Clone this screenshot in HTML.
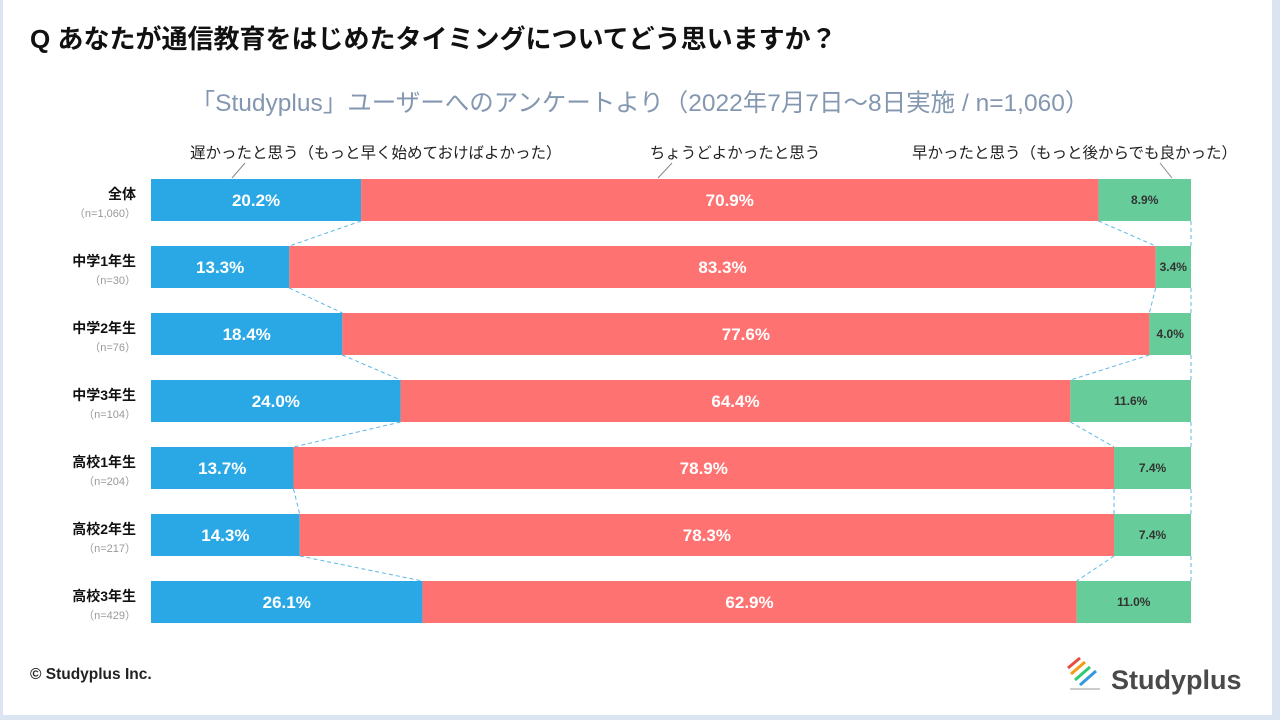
<!DOCTYPE html>
<html><head><meta charset="utf-8">
<style>
body{margin:0;width:1280px;height:720px;background:#dbe5f1;overflow:hidden;font-family:"Liberation Sans","Noto Sans CJK JP",sans-serif;}
#card{position:absolute;left:3px;top:0;width:1269px;height:715px;background:#fff;}
</style></head><body>
<div id="card"></div>
<svg id="chart" width="1280" height="720" style="position:absolute;left:0;top:0">
<text x="30" y="48" font-size="26" font-weight="bold" fill="#111">Q あなたが通信教育をはじめたタイミングについてどう思いますか？</text>
<text x="640" y="111" text-anchor="middle" font-size="24.5" fill="#8497b0">「Studyplus」ユーザーへのアンケートより（2022年7月7日〜8日実施 / n=1,060）</text>
<text x="190" y="158" font-size="15.5" fill="#222">遅かったと思う（もっと早く始めておけばよかった）</text>
<text x="735" y="158" text-anchor="middle" font-size="15.5" fill="#222">ちょうどよかったと思う</text>
<text x="1237" y="158" text-anchor="end" font-size="15.5" fill="#222">早かったと思う（もっと後からでも良かった）</text>
<line x1="245" y1="163" x2="232" y2="178" stroke="#888"/>
<line x1="672" y1="163" x2="658" y2="178" stroke="#888"/>
<line x1="1160" y1="163" x2="1172" y2="178" stroke="#888"/>
<g id="bars"></g>
<text x="30" y="679" font-size="15.5" font-weight="bold" fill="#222">© Studyplus Inc.</text>
<g>
<line x1="1068" y1="668" x2="1080" y2="658" stroke="#e74c3c" stroke-width="3"/>
<line x1="1071" y1="674" x2="1085" y2="662" stroke="#f39c12" stroke-width="3"/>
<line x1="1075" y1="680" x2="1090" y2="667" stroke="#2ecc71" stroke-width="3"/>
<line x1="1080" y1="685" x2="1096" y2="671" stroke="#3498db" stroke-width="3"/>
<line x1="1070" y1="689" x2="1100" y2="689" stroke="#bbb" stroke-width="1.5"/>
<text x="1111" y="689" font-size="27" font-weight="bold" fill="#4a4a4a">Studyplus</text>
</g>
</svg>
<script>
const categories=["全体","中学1年生","中学2年生","中学3年生","高校1年生","高校2年生","高校3年生"];
const sampleSizes=["（n=1,060）","（n=30）","（n=76）","（n=104）","（n=204）","（n=217）","（n=429）"];
const lateValues=[20.2,13.3,18.4,24.0,13.7,14.3,26.1];
const justValues=[70.9,83.3,77.6,64.4,78.9,78.3,62.9];
const earlyValues=[8.9,3.4,4.0,11.6,7.4,7.4,11.0];
const NS="http://www.w3.org/2000/svg";
const g=document.getElementById('bars');
const X0=151,W=1040,Y0=179,H=42,P=67;
const xs=v=>X0+v/100*W;
const ys=i=>Y0+i*P;
function mk(t,a){const e=document.createElementNS(NS,t);for(const k in a)e.setAttribute(k,a[k]);g.appendChild(e);return e;}
const cols=["#29a8e5","#ff7272","#66cc99"];
categories.forEach((c,i)=>{
  const y=ys(i);
  const vals=[lateValues[i],justValues[i],earlyValues[i]];
  let acc=0;
  vals.forEach((v,j)=>{
    const r=mk('rect',{x:xs(acc),y:y,width:xs(acc+v)-xs(acc),height:H,fill:cols[j]});
    
    
    const tx=mk('text',{x:(xs(acc)+xs(acc+v))/2,y:y+H/2+(j==2?4:6),'text-anchor':'middle','font-size':j==2?12:17,'font-weight':'bold',fill:j==2?'#333':'#fff'});
    tx.textContent=v.toFixed(1)+'%';
    
    
    acc+=v;
  });
  const l=mk('text',{x:136,y:y+20,'text-anchor':'end','font-size':14,'font-weight':'bold',fill:'#111'});
  l.textContent=c;
  
  
  const n=mk('text',{x:136,y:y+38,'text-anchor':'end','font-size':11,fill:'#999'});
  n.textContent=sampleSizes[i];
  
  
  if(i<categories.length-1){
    const b1=[lateValues[i],lateValues[i]+justValues[i],100];
    const b2=[lateValues[i+1],lateValues[i+1]+justValues[i+1],100];
    for(let k=0;k<3;k++){
      const ln=mk('line',{x1:xs(b1[k]),y1:y+H,x2:xs(b2[k]),y2:ys(i+1),stroke:'#5bb8e6','stroke-width':1,'stroke-dasharray':'4,3'});
      
      
    }
  }
});
</script>
</body></html>
